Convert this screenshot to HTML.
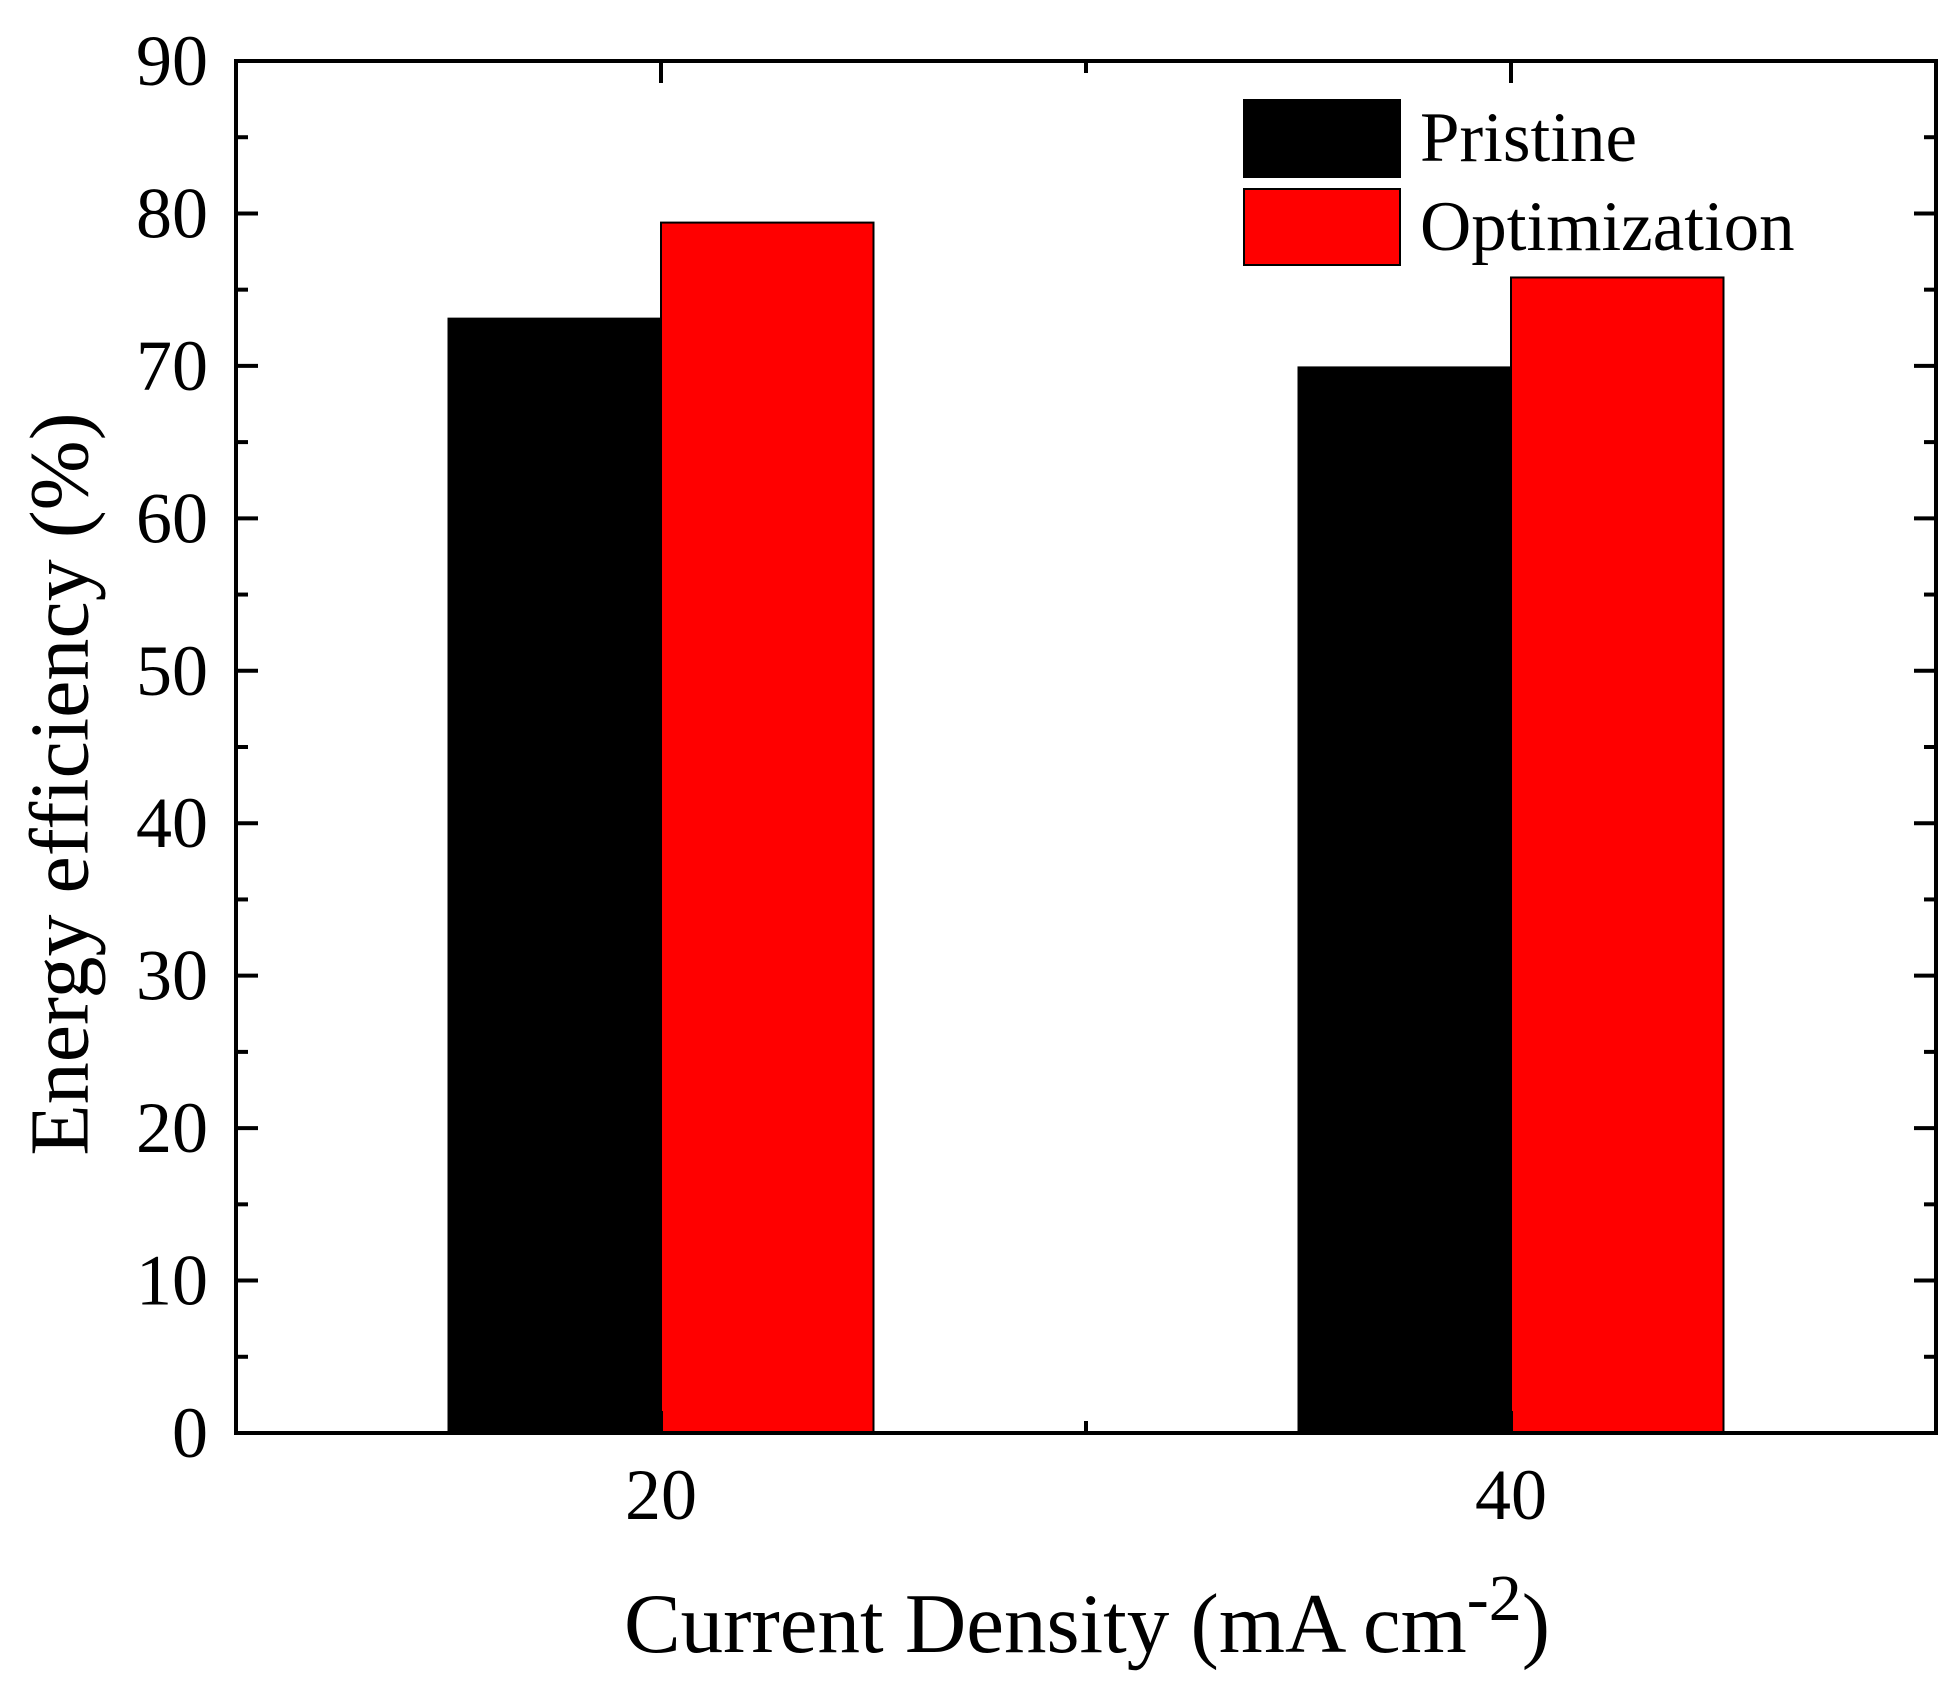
<!DOCTYPE html>
<html><head><meta charset="utf-8"><style>
html,body{margin:0;padding:0;background:#fff;}
svg{display:block;font-family:"Liberation Serif",serif;}
</style></head><body>
<svg id="chart" width="1958" height="1689" viewBox="0 0 1958 1689">
<g id="marks"></g>
<g id="axes"></g>
<text x="60" y="784" transform="rotate(-90 60 784)" text-anchor="middle" dominant-baseline="central" font-size="84">Energy efficiency (%)</text>
<text x="1087" y="1652" text-anchor="middle" font-size="85">Current Density (mA cm<tspan dy="-32" font-size="66">-2</tspan><tspan dy="32">)</tspan></text>
<g>
<rect x="1244" y="100" width="156" height="77" fill="#000" stroke="#000" stroke-width="2"/>
<text x="1420" y="161" font-size="71">Pristine</text>
<rect x="1244" y="189" width="156" height="76" fill="#ff0000" stroke="#000" stroke-width="2"/>
<text x="1420" y="250" font-size="71">Optimization</text>
</g>
</svg>
<script>
const categories = [20, 40];
const pristine = [73.1, 69.9];
const optimization = [79.4, 75.8];
const yTicks = [0,10,20,30,40,50,60,70,80,90];
const xTicks = [20, 40];

const L=236,R=1936,T=61,B=1433;
const xs = v => L + (v-10)/40*(R-L);
const ys = v => B - v/90*(B-T);
const NS="http://www.w3.org/2000/svg";
const marks=document.getElementById('marks');
const axes=document.getElementById('axes');
function mk(tag,attrs,parent){const e=document.createElementNS(NS,tag);for(const k in attrs)e.setAttribute(k,attrs[k]);parent.appendChild(e);return e;}

categories.forEach((c,i)=>{
  const w = xs(5)-xs(0);
  const b1=mk('rect',{x:xs(c)-w,y:ys(pristine[i]),width:w,height:ys(0)-ys(pristine[i]),fill:'#000',stroke:'#000','stroke-width':2},marks);
  
  
  const b2=mk('rect',{x:xs(c),y:ys(optimization[i]),width:w,height:ys(0)-ys(optimization[i]),fill:'#ff0000',stroke:'#000','stroke-width':2},marks);
  
  
});

const frame=mk('rect',{x:L,y:T,width:R-L,height:B-T,fill:'none',stroke:'#000','stroke-width':4},axes);



for(let v=0;v<=90;v+=5){
  const major=v%10===0, len=major?22:12, y=ys(v);
  mk('line',{x1:L,x2:L+len,y1:y,y2:y,stroke:'#000','stroke-width':4},axes);
  mk('line',{x1:R,x2:R-len,y1:y,y2:y,stroke:'#000','stroke-width':4},axes);
}
yTicks.forEach(v=>{
  const t=mk('text',{x:208,y:ys(v)+24,'text-anchor':'end','font-size':72},axes);
  t.textContent=v;
  
  
});
[20,30,40].forEach(v=>{
  mk('line',{x1:xs(v),x2:xs(v),y1:B,y2:B-(v%20===0?22:12),stroke:'#000','stroke-width':4},axes);
  mk('line',{x1:xs(v),x2:xs(v),y1:T,y2:T+(v%20===0?22:12),stroke:'#000','stroke-width':4},axes);
});
xTicks.forEach(v=>{
  const t=mk('text',{x:xs(v),y:1519,'text-anchor':'middle','font-size':72},axes);
  t.textContent=v;
  
  
});
</script>
</body></html>
